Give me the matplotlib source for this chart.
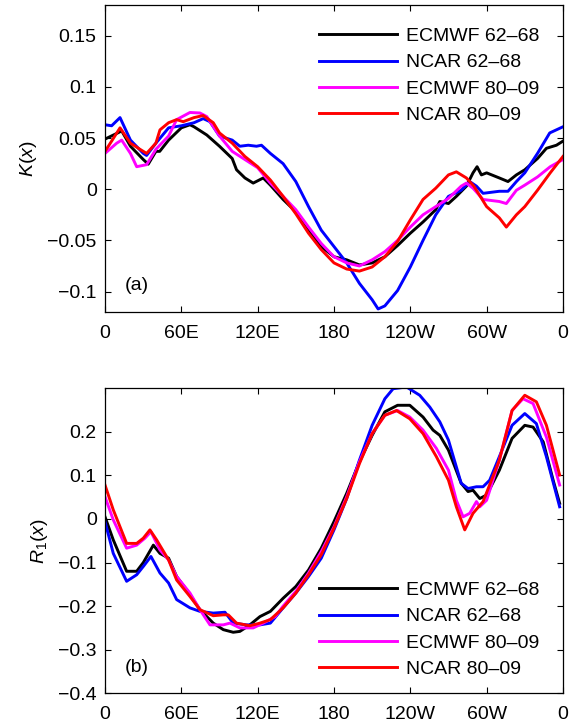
import numpy as np
import matplotlib
matplotlib.use("Agg")
import matplotlib.pyplot as plt

plt.rcParams['font.family'] = ['Liberation Sans', 'DejaVu Sans']
plt.rcParams['mathtext.fontset'] = 'custom'
plt.rcParams['mathtext.rm'] = 'Liberation Sans'
plt.rcParams['mathtext.it'] = 'Liberation Sans:italic'

# ---- panel (a): K(x) ----
ka_ec62_lon = [0, 10, 13.1, 20, 30.1, 34, 40, 43, 50, 60, 66.8, 70, 80, 90, 100, 103.4, 110, 116.5, 124.4, 130, 140,
               150, 160, 170, 180, 190, 200, 210, 220, 230, 240, 250, 260, 263.2, 270, 276.2, 284.1, 289.3, 292.5,
               295.9, 300, 310, 316.8, 323.4, 330, 340, 347, 354.9, 360]
ka_ec62 = [0.049, 0.055, 0.057, 0.042, 0.029, 0.0245, 0.037, 0.037, 0.048, 0.060, 0.063, 0.061, 0.053, 0.042, 0.030,
           0.019, 0.011, 0.006, 0.011, 0.004, -0.010, -0.022, -0.040, -0.056, -0.066, -0.069, -0.074, -0.072,
           -0.066, -0.055, -0.043, -0.032, -0.020, -0.012, -0.014, -0.007, 0.003, 0.016, 0.022, 0.014, 0.016,
           0.011, 0.0075, 0.014, 0.019, 0.030, 0.040, 0.043, 0.047]

ka_nc62_lon = [0, 5.2, 11.8, 20, 30.1, 32.7, 40, 50, 60, 70, 77.2, 82.5, 90, 100, 106, 112.6, 119.1, 123, 130, 140,
               150, 160, 170, 180, 190, 200, 210, 214.7, 220, 230, 240, 250, 260, 270, 280, 286.7, 292, 297.2,
               310, 316.8, 323.4, 330, 340, 349.6, 360]
ka_nc62 = [0.063, 0.062, 0.070, 0.048, 0.035, 0.033, 0.045, 0.060, 0.062, 0.065, 0.069, 0.066, 0.052, 0.048, 0.042,
           0.043, 0.042, 0.043, 0.035, 0.025, 0.0075, -0.017, -0.040, -0.056, -0.072, -0.092, -0.108, -0.117,
           -0.114, -0.099, -0.076, -0.050, -0.025, -0.007, -0.001, 0.0075, 0.003, -0.004, -0.002, -0.002,
           0.0075, 0.016, 0.035, 0.055, 0.061]

ka_ec80_lon = [0, 9.2, 13.1, 20, 24.9, 32.7, 40, 50, 56.3, 66.8, 74.6, 80, 90, 100, 110, 120, 130, 140, 150, 160,
               170, 180, 190, 200, 210, 220, 230, 240, 250, 260, 270, 280, 284.1, 289.3, 297.2, 310, 315.5, 323.4,
               330, 340, 350, 360]
ka_ec80 = [0.035, 0.045, 0.048, 0.035, 0.022, 0.024, 0.039, 0.052, 0.068, 0.075, 0.0745, 0.071, 0.052, 0.037, 0.029,
           0.021, 0.006, -0.007, -0.020, -0.037, -0.053, -0.066, -0.072, -0.075, -0.069, -0.061, -0.050, -0.037,
           -0.025, -0.017, -0.009, 0.003, 0.006, 0.001, -0.010, -0.012, -0.014, -0.001, 0.004, 0.012, 0.022,
           0.029]

ka_nc80_lon = [0, 5.2, 11.8, 20, 27.5, 32.7, 40, 43.2, 50, 56.3, 61.5, 70, 77.2, 85.1, 90, 100, 110, 120, 130, 140,
               150, 160, 170, 180, 190, 200, 210, 220, 230, 240, 250, 260, 270, 276.2, 284.1, 290, 300, 310, 315.5,
               323.4, 330, 340, 350, 360]
ka_nc80 = [0.037, 0.047, 0.060, 0.045, 0.039, 0.035, 0.045, 0.058, 0.065, 0.068, 0.066, 0.070, 0.072, 0.065, 0.055,
           0.045, 0.032, 0.022, 0.009, -0.007, -0.024, -0.043, -0.059, -0.072, -0.078, -0.080, -0.076, -0.066,
           -0.051, -0.030, -0.010, 0.001, 0.014, 0.017, 0.011, 0.003, -0.017, -0.028, -0.037, -0.025, -0.017,
           -0.001, 0.016, 0.032]

# ---- panel (b): R1(x) ----
rb_ec62_lon = [0, 6.5, 17, 24.9, 30.1, 38, 43.2, 50, 56.3, 64.2, 74.6, 85.1, 93, 100.8, 106, 113.9, 121.8, 130,
               140, 150, 160, 170, 180, 190, 200, 210, 220, 230, 239.6, 250, 257.9, 263.2, 270, 280, 285.4, 289.3,
               294.6, 300, 310, 320, 330, 336.5, 344.5, 352.3, 357.4]
rb_ec62 = [0.005, -0.048, -0.12, -0.12, -0.10, -0.06, -0.079, -0.09, -0.132, -0.163, -0.208, -0.239, -0.254,
           -0.26, -0.258, -0.243, -0.224, -0.212, -0.182, -0.155, -0.117, -0.067, -0.006, 0.059, 0.131, 0.192,
           0.246, 0.261, 0.261, 0.234, 0.204, 0.192, 0.158, 0.082, 0.063, 0.066, 0.047, 0.055, 0.112, 0.185,
           0.215, 0.211, 0.177, 0.089, 0.036]

rb_nc62_lon = [0, 6.5, 17, 24.9, 30.1, 36.1, 43.2, 50, 56.3, 66.8, 74.6, 85.1, 94.3, 100.8, 111.3, 121.8, 130, 140,
               150, 160, 170, 180, 190, 200, 210, 220, 226.5, 237, 247.4, 255.3, 263.2, 270, 280, 285.4, 292,
               297.2, 302.4, 310, 320, 330, 339.1, 347, 357.4]
rb_nc62 = [-0.006, -0.079, -0.143, -0.128, -0.109, -0.086, -0.124, -0.147, -0.185, -0.204, -0.212, -0.216,
           -0.214, -0.239, -0.243, -0.243, -0.239, -0.204, -0.170, -0.132, -0.09, -0.025, 0.047, 0.135, 0.215,
           0.276, 0.299, 0.303, 0.284, 0.257, 0.223, 0.181, 0.082, 0.070, 0.074, 0.074, 0.089, 0.143, 0.215,
           0.242, 0.219, 0.143, 0.028]

rb_ec80_lon = [0, 6.5, 17, 24.9, 31.4, 36.1, 43.2, 50, 56.3, 66.8, 74.6, 82.5, 93, 98.2, 106, 116.5, 124.4, 133.8,
               140, 150, 160, 170, 180, 190, 200, 210, 220, 230, 239.6, 250, 260.5, 270, 276.2, 281.5, 286.7, 292,
               294.6, 300, 310, 320, 328.6, 336.5, 347, 357.4]
rb_ec80 = [0.051, -0.002, -0.067, -0.06, -0.044, -0.029, -0.071, -0.094, -0.132, -0.17, -0.208, -0.243, -0.243,
           -0.239, -0.25, -0.25, -0.239, -0.224, -0.2, -0.166, -0.124, -0.075, -0.018, 0.051, 0.131, 0.196,
           0.238, 0.249, 0.234, 0.204, 0.162, 0.112, 0.043, 0.005, 0.013, 0.040, 0.028, 0.043, 0.135, 0.249,
           0.276, 0.265, 0.188, 0.078]

rb_nc80_lon = [0, 6.5, 17, 24.9, 30.1, 35.3, 40.6, 50, 56.3, 66.8, 74.6, 85.1, 93, 96.9, 103.4, 113.9, 121.8, 130,
               140, 150, 160, 170, 180, 190, 200, 210, 220, 229.1, 239.6, 250, 260.5, 270, 276.2, 282.8, 289.3,
               297.2, 310, 320, 330, 339.1, 347, 357.4]
rb_nc80 = [0.078, 0.021, -0.056, -0.056, -0.044, -0.025, -0.048, -0.094, -0.14, -0.178, -0.208, -0.222, -0.22,
           -0.22, -0.239, -0.245, -0.239, -0.231, -0.204, -0.170, -0.128, -0.082, -0.021, 0.047, 0.127, 0.196,
           0.238, 0.249, 0.23, 0.196, 0.143, 0.089, 0.028, -0.025, 0.013, 0.040, 0.135, 0.249, 0.284, 0.269,
           0.215, 0.101]

labels = ['ECMWF 62\u201368', 'NCAR 62\u201368', 'ECMWF 80\u201309', 'NCAR 80\u201309']
colors = ['black', 'blue', 'magenta', 'red']
xticks = [0, 60, 120, 180, 240, 300, 360]
xticklabels = ['0', '60E', '120E', '180', '120W', '60W', '0']

fig = plt.figure(figsize=(5.71, 7.27), dpi=100)
ax1 = fig.add_axes([0.1839, 0.5708, 0.802, 0.4223])
ax2 = fig.add_axes([0.1839, 0.0464, 0.802, 0.4195])

top = [(ka_ec62_lon, ka_ec62), (ka_nc62_lon, ka_nc62), (ka_ec80_lon, ka_ec80), (ka_nc80_lon, ka_nc80)]
bot = [(rb_ec62_lon, rb_ec62), (rb_nc62_lon, rb_nc62), (rb_ec80_lon, rb_ec80), (rb_nc80_lon, rb_nc80)]

for ax, series in [(ax1, top), (ax2, bot)]:
    for (x, y), c, lab in zip(series, colors, labels):
        ax.plot(x, y, color=c, lw=2.1, label=lab, solid_joinstyle='round')
    ax.set_xlim(0, 360)
    ax.set_xticks(xticks)
    ax.set_xticklabels(xticklabels)
    ax.tick_params(direction='in', top=True, right=True, length=4, width=0.8, labelsize=14)
    ax.tick_params(axis='x', pad=9)
    ax.tick_params(axis='y', pad=6)
    for s in ax.spines.values():
        s.set_linewidth(0.9)

ax1.set_ylim(-0.12, 0.18)
ax1.set_yticks([-0.1, -0.05, 0, 0.05, 0.1, 0.15])
ax1.set_yticklabels(['\u22120.1', '\u22120.05', '0', '0.05', '0.1', '0.15'])
ax1.set_ylabel('$K(x)$', fontsize=14, labelpad=6)
ax1.text(0.044, 0.085, '(a)', transform=ax1.transAxes, fontsize=14, va='center')
ax1.legend(loc='upper left', bbox_to_anchor=(0.467, 0.927), frameon=False, fontsize=14,
           handlelength=4.0, handletextpad=0.5, labelspacing=0.45, borderpad=0, borderaxespad=0)

ax2.set_ylim(-0.4, 0.3)
ax2.set_yticks([-0.4, -0.3, -0.2, -0.1, 0, 0.1, 0.2])
ax2.set_yticklabels(['\u22120.4', '\u22120.3', '\u22120.2', '\u22120.1', '0', '0.1', '0.2'])
ax2.set_ylabel('$R_1(x)$', fontsize=14, labelpad=6)
ax2.text(0.044, 0.083, '(b)', transform=ax2.transAxes, fontsize=14, va='center')
ax2.legend(loc='upper left', bbox_to_anchor=(0.467, 0.367), frameon=False, fontsize=14,
           handlelength=4.0, handletextpad=0.5, labelspacing=0.45, borderpad=0, borderaxespad=0)

fig.savefig('out.png', dpi=100)
